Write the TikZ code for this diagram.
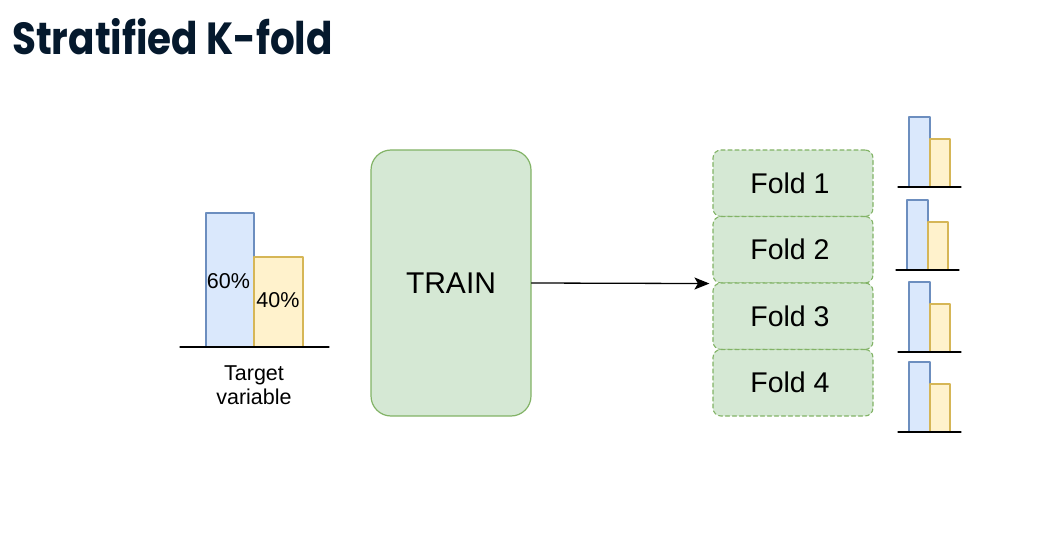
\documentclass[tikz,border=0pt]{standalone}
\usepackage{fontspec}
\setmainfont{Liberation Sans}
\newfontfamily\titlefont{Poppins}
\usetikzlibrary{arrows.meta}
\definecolor{qqttzz}{HTML}{05192D}
\definecolor{dcebfc}{HTML}{DAE8FC}
\definecolor{ttzzbb}{HTML}{6C8EBF}
\definecolor{ffeecc}{HTML}{FFF2CC}
\definecolor{ddbbuu}{HTML}{D6B656}
\definecolor{ddeedd}{HTML}{D5E8D4}
\definecolor{ttbbtt}{HTML}{82B366}

\begin{document}
\begin{tikzpicture}[line cap=round,line join=round,>={Stealth[length=15pt,width=12pt,inset=3.5pt]},x=1pt,y=-1pt]
\useasboundingbox (0,0) rectangle (1039,545);
\tikzset{
  trainbox/.style={draw=ttbbtt,fill=ddeedd,line width=1.2pt,rounded corners=20pt,
    minimum width=160pt,minimum height=266pt,inner sep=0pt,font=\fontsize{30}{34}\selectfont},
  foldbox/.style={draw=ttbbtt,fill=ddeedd,line width=1.1pt,rounded corners=8pt,
    dash pattern=on 4pt off 3pt,minimum width=160pt,minimum height=66.5pt,inner sep=0pt,
    font=\fontsize{28.5}{32}\selectfont},
  barlabel/.style={inner sep=0pt,font=\fontsize{21.5}{25}\selectfont}
}
% title
\draw (12,55) node[anchor=base west,inner sep=0pt,text=qqttzz] (title) {\scalebox{0.865}[1]{\titlefont\bfseries\fontsize{45}{50}\selectfont Stratified K-fold}};
% target variable
\filldraw[draw=ttzzbb,fill=dcebfc,line width=1.2pt] (206,213) rectangle (254,347);
\filldraw[draw=ddbbuu,fill=ffeecc,line width=1.2pt] (254,257) rectangle (303,347);
\draw[line width=1.2pt] (180,347) -- (329,347);
\draw (228.5,281) node[barlabel] (p60) {60\%};
\draw (278,300) node[barlabel] (p40) {40\%};
\draw (254,385) node[barlabel,align=center] (target) {Target\\[-1pt]variable};
% train and folds
\node[trainbox] (train) at (451,283) {TRAIN};
\node[foldbox] (fold1) at (793,183.25) {\hspace*{-6pt}Fold 1};
\node[foldbox] (fold2) at (793,249.75) {\hspace*{-6pt}Fold 2};
\node[foldbox] (fold3) at (793,316.25) {\hspace*{-6pt}Fold 3};
\node[foldbox] (fold4) at (793,382.75) {\hspace*{-6pt}Fold 4};
\coordinate (split) at ([xshift=-3pt]fold2.south west);
\draw[->,line width=1.3pt] (train.east) -- (split);
% small bars
\foreach \x/\y in {909/187,907/270,909/352,909/432}
{
\filldraw[draw=ttzzbb,fill=dcebfc,line width=1.2pt] (\x,\y-70) rectangle (\x+21,\y);
\filldraw[draw=ddbbuu,fill=ffeecc,line width=1.2pt] (\x+21,\y-48) rectangle (\x+41,\y);
\draw[line width=1.2pt] (\x-11,\y) -- (\x+52,\y);
}
\end{tikzpicture}
\end{document}
